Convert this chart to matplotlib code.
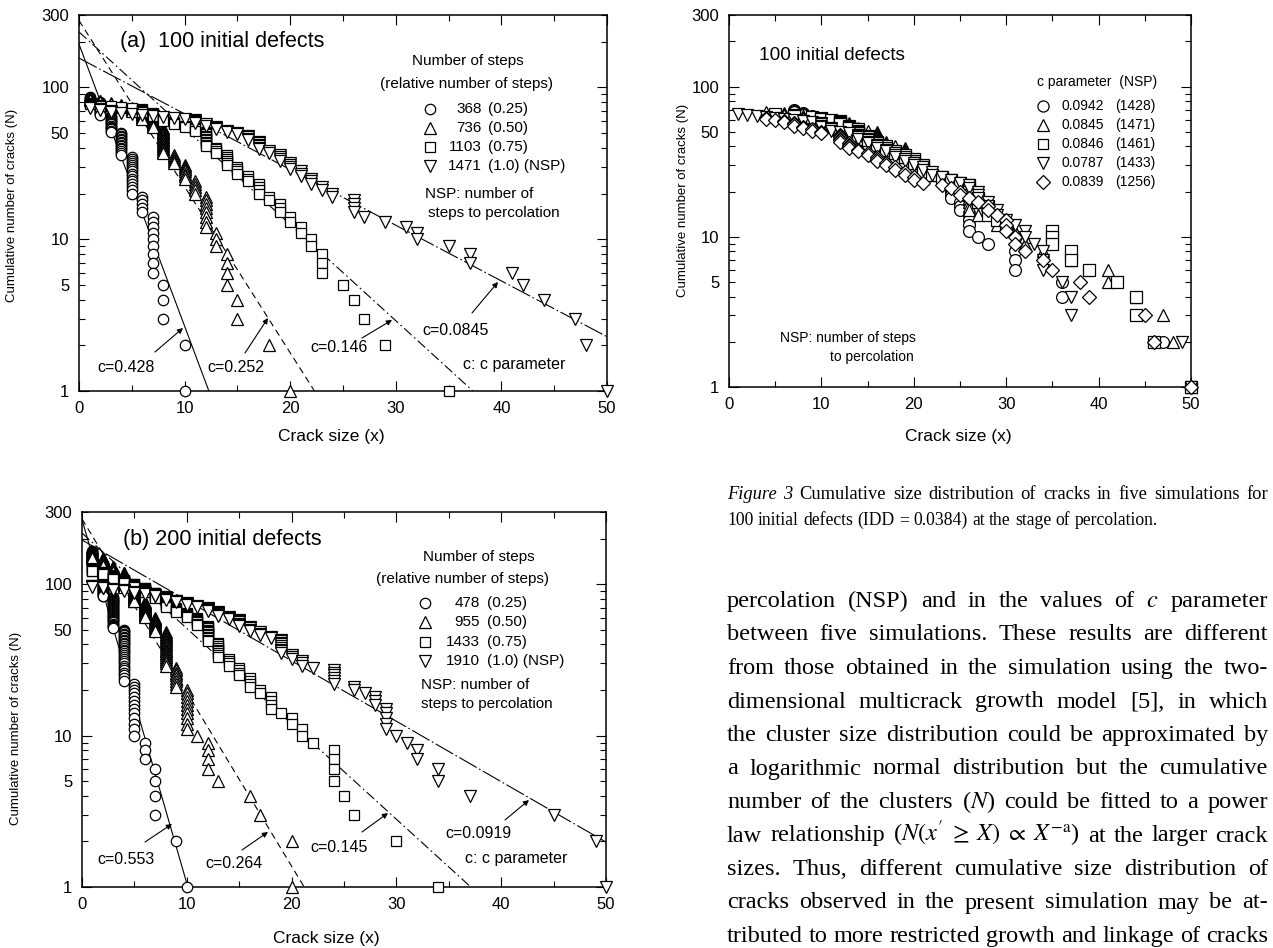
import matplotlib
matplotlib.use("Agg")
import matplotlib.pyplot as plt
from matplotlib.lines import Line2D
from matplotlib.patches import FancyArrowPatch
from matplotlib.ticker import FixedLocator, FuncFormatter

W, H = 1273, 948
plt.rcParams['font.family'] = ['Liberation Sans', 'DejaVu Sans']
plt.rcParams['mathtext.fontset'] = 'stix'

# ---- panel (a): 100 initial defects, crack size -> top N of each column
a_circ_x = [1, 2, 3, 4, 5, 6, 7, 8, 10]
a_circ_n = [86, 80, 65, 50, 35, 19, 14, 5, 2]
a_tri_x = [1, 2, 3, 4, 5, 6, 7, 8, 9, 10, 11, 12, 13, 14, 15, 18, 20]
a_tri_n = [84, 82, 79, 77, 73, 69, 61, 54, 36, 31, 24, 19, 11, 8, 4, 2, 1]
a_sq_x = [1, 2, 3, 4, 5, 6, 7, 8, 9, 10, 11, 12, 13, 14, 15, 16, 17, 18, 19, 20,
          21, 22, 23, 25, 26, 27, 29, 35]
a_sq_n = [79, 77, 75, 74, 73, 72, 68, 64, 59, 56, 54, 51, 40, 36, 30, 26, 23, 19, 17, 14,
          12, 10, 8, 5, 4, 3, 2, 1]
a_tdn_x = [1, 2, 3, 4, 5, 6, 7, 8, 9, 10, 11, 12, 13, 14, 15, 16, 17, 18, 19, 20,
           21, 22, 23, 24, 26, 27, 29, 31, 32, 35, 37, 41, 42, 44, 47, 48, 50]
a_tdn_n = [75, 72, 70, 68, 67, 66, 65, 64, 63, 62, 61, 57, 55, 52, 50, 48, 44, 38, 36, 32,
           28, 25, 22, 20, 18, 14, 13, 12, 11, 9, 8, 6, 5, 4, 3, 2, 1]
a_steps = ["368", "736", "1103", "1471"]
a_rel = ["(0.25)", "(0.50)", "(0.75)", "(1.0) (NSP)"]
a_fit_c = ["0.428", "0.252", "0.146", "0.0845"]
a_fit_x = [[0, 12.3], [0, 22.3], [0, 37.3], [0, 50]]
a_fit_n = [[193, 1], [276, 1], [232, 1], [156, 2.28]]

# ---- panel (b): 200 initial defects
b_circ_x = [1, 2, 3, 4, 5, 6, 7, 9, 10]
b_circ_n = [165, 135, 82, 50, 22, 9, 6, 2, 1]
b_tri_x = [1, 2, 3, 4, 5, 6, 7, 8, 9, 10, 11, 12, 13, 16, 17, 20]
b_tri_n = [156, 148, 130, 119, 95, 76, 60, 48, 28, 20, 10, 9, 5, 4, 3, 2]
b_sq_x = [1, 2, 3, 4, 5, 6, 7, 8, 9, 10, 11, 12, 13, 14, 15, 16, 17, 18, 19, 20,
          21, 22, 24, 25, 26, 30, 34]
b_sq_n = [128, 121, 115, 107, 101, 95, 88, 80, 70, 65, 60, 53, 41, 32, 28, 24, 20, 18, 14, 13,
          11, 9, 8, 4, 3, 2, 1]
b_tdn_x = [1, 2, 3, 4, 5, 6, 7, 8, 9, 10, 11, 12, 13, 14, 15, 16, 17, 18, 19, 20,
           21, 22, 24, 26, 27, 28, 29, 30, 31, 32, 34, 37, 45, 49, 50]
b_tdn_n = [98, 95, 93, 91, 89, 87, 85, 82, 78, 75, 72, 70, 66, 61, 58, 52, 48, 45, 43, 34,
           31, 28, 27, 21, 19, 18, 15, 10, 9, 8, 6, 4, 3, 2, 1]
b_steps = ["478", "955", "1433", "1910"]
b_rel = ["(0.25)", "(0.50)", "(0.75)", "(1.0) (NSP)"]
b_fit_c = ["0.553", "0.264", "0.145", "0.0919"]
b_fit_x = [[0, 10.1], [0, 21.2], [0, 37.1], [0, 50]]
b_fit_n = [[267, 1], [270, 1], [218, 1], [196, 1.98]]

# ---- figure 3: five simulations, 100 initial defects
c_circ_x = [7, 8, 9, 10, 11, 12, 13, 14, 15, 16, 17, 18, 19, 20, 21, 22, 23, 24, 25, 26,
            27, 28, 31, 36, 44, 47, 50]
c_circ_n = [70, 67, 64, 60, 57, 54, 50, 46, 43, 40, 37, 34, 31, 29, 27, 26, 25, 24, 17, 14,
            10, 9, 8, 5, 3, 2, 1]
c_tri_x = [4, 6, 8, 10, 12, 13, 14, 15, 16, 17, 18, 19, 20, 21, 22, 23, 24, 25, 26, 27,
           29, 31, 32, 34, 37, 41, 44, 47, 48, 50]
c_tri_n = [68, 67, 64, 61, 59, 57, 53, 51, 50, 43, 40, 39, 33, 30, 27, 25, 23, 21, 20, 14,
           13, 11, 10, 8, 7, 6, 4, 3, 2, 1]
c_sq_x = [5, 7, 9, 10, 11, 12, 13, 14, 15, 16, 17, 18, 19, 20, 21, 22, 23, 24, 25, 26,
          27, 28, 29, 30, 35, 37, 39, 42, 44, 46, 50]
c_sq_n = [66, 65, 63, 62, 60, 59, 55, 52, 47, 43, 40, 37, 35, 33, 30, 26, 25, 24, 23, 22,
          18, 16, 13, 12, 11, 8, 6, 5, 4, 2, 1]
c_tdn_x = [1, 2, 3, 4, 5, 6, 7, 8, 9, 10, 11, 12, 13, 14, 15, 16, 17, 18, 19, 20,
           21, 22, 23, 24, 25, 26, 27, 28, 29, 30, 31, 32, 33, 34, 36, 37, 49, 50]
c_tdn_n = [66, 65, 64, 63, 62, 61, 60, 59, 58, 57, 53, 50, 49, 48, 44, 41, 38, 36, 33, 31,
           29, 27, 25, 24, 23, 22, 20, 17, 15, 13, 12, 11, 9, 8, 5, 4, 2, 1]
c_dia_x = [4, 5, 6, 7, 8, 9, 10, 12, 13, 14, 15, 16, 17, 18, 19, 20, 21, 23, 24, 25,
           26, 27, 28, 29, 30, 31, 32, 34, 35, 38, 39, 45, 46, 50]
c_dia_n = [62, 60, 59, 57, 54, 52, 50, 48, 42, 38, 36, 34, 31, 29, 27, 25, 23, 22, 21, 20,
           18, 17, 16, 14, 13, 10, 8, 7, 6, 5, 4, 3, 2, 1]
c_cpar = ["0.0942", "0.0845", "0.0846", "0.0787", "0.0839"]
c_nsp = ["(1428)", "(1471)", "(1461)", "(1433)", "(1256)"]

caption = [
    "Figure 3 Cumulative size distribution of cracks in five simulations for",
    "100 initial defects (IDD = 0.0384) at the stage of percolation.",
]
body = [
    "percolation (NSP) and in the values of $c$ parameter",
    "between five simulations. These results are different",
    "from those obtained in the simulation using the two-",
    "dimensional multicrack growth model [5], in which",
    "the cluster size distribution could be approximated by",
    "a logarithmic normal distribution but the cumulative",
    "number of the clusters ($N$) could be fitted to a power",
    "law relationship ($N(x'\\;\\geq\\;X)\\;\\propto\\;X^{-\\mathrm{a}}$) at the larger crack",
    "sizes. Thus, different cumulative size distribution of",
    "cracks observed in the present simulation may be at-",
    "tributed to more restricted growth and linkage of cracks",
]

fig = plt.figure(figsize=(W / 100, H / 100), dpi=100)


def P(px, py):
    return (px / W, 1 - py / H)


def ftext(px, py, s, size, ha='left', **kw):
    fig.text(px / W, 1 - py / H, s, fontsize=size, ha=ha, va='center', **kw)


def arrow(tail, head):
    fig.add_artist(FancyArrowPatch(P(*tail), P(*head), transform=fig.transFigure,
                                   arrowstyle='-|>', mutation_scale=8, lw=0.8,
                                   color='k', shrinkA=0, shrinkB=0))


def key(px, py, m, ms):
    fig.add_artist(Line2D([px / W], [1 - py / H], transform=fig.transFigure, marker=m,
                          ms=ms, mfc='white', mec='k', mew=0.9, ls='none'))


def columns(xs, tops):
    # cumulative counts: each size keeps N from its top down to the next size's top + 1
    px, py = [], []
    for i, (x, t) in enumerate(zip(xs, tops)):
        low = tops[i + 1] + 1 if i + 1 < len(tops) else 1
        for n in range(t, low - 1, -1):
            px.append(x)
            py.append(n)
    return px, py


def setup(rect):
    ax = fig.add_axes(rect)
    ax.set_yscale('log')
    ax.set_xlim(0, 50)
    ax.set_ylim(1, 300)
    ax.xaxis.set_major_locator(FixedLocator([0, 10, 20, 30, 40, 50]))
    ax.xaxis.set_minor_locator(FixedLocator([5, 15, 25, 35, 45]))
    ax.yaxis.set_major_locator(FixedLocator([1, 10, 100]))
    ax.yaxis.set_minor_locator(FixedLocator([2, 3, 4, 5, 6, 7, 8, 9, 20, 30, 40, 50,
                                             60, 70, 80, 90, 200, 300]))
    ax.yaxis.set_major_formatter(FuncFormatter(lambda v, p: "%d" % v))
    ax.yaxis.set_minor_formatter(FuncFormatter(
        lambda v, p: "%d" % v if v in (5, 50, 300) else ""))
    ax.tick_params(which='both', direction='in', top=True, right=True, width=0.8,
                   labelsize=12, pad=7)
    ax.tick_params(which='major', length=7)
    ax.tick_params(which='minor', length=4)
    ax.tick_params(axis='x', pad=7)
    for s in ax.spines.values():
        s.set_linewidth(1.1)
    return ax


def scatter(ax, xs, tops, m, ms):
    x, y = columns(xs, tops)
    ax.plot(x, y, ls='none', marker=m, ms=ms, mfc='white', mec='k', mew=0.9,
            clip_on=False, zorder=3)


styles = ['-', (0, (6, 4)), (0, (9, 3, 1.5, 3)), (0, (18, 2.5, 1.5, 2.5))]

# ---------------- panel (a)
ax = setup([79 / W, 1 - 391 / H, 528 / W, 376 / H])
for fx, fn, ls in zip(a_fit_x, a_fit_n, styles):
    ax.plot(fx, fn, color='k', lw=0.8, ls=ls)
scatter(ax, a_circ_x, a_circ_n, 'o', 7.5)
scatter(ax, a_tri_x, a_tri_n, '^', 8.5)
scatter(ax, a_sq_x, a_sq_n, 's', 7.5)
scatter(ax, a_tdn_x, a_tdn_n, 'v', 8.5)

ftext(120, 41, "(a)  100 initial defects", 15.5)
ftext(468, 61, "Number of steps", 11, ha='center')
ftext(466, 84, "(relative number of steps)", 11, ha='center')
for i, (m, s, r) in enumerate(zip(['o', '^', 's', 'v'], a_steps, a_rel)):
    y = 109 + i * 19
    key(430, y, m, 7.5 if m in 'os' else 8.5)
    ftext(482, y, s, 11, ha='right')
    ftext(488, y, r, 11)
ftext(425, 194, "NSP: number of", 11)
ftext(428, 213, "steps to percolation", 11)
ftext(97, 368, "c=" + a_fit_c[0], 11.5)
arrow((155, 352), (183, 328))
ftext(207, 368, "c=" + a_fit_c[1], 11.5)
arrow((245, 353), (268, 318))
ftext(310, 348, "c=" + a_fit_c[2], 11.5)
arrow((362, 338), (392, 320))
ftext(422, 330, "c=" + a_fit_c[3], 11.5)
arrow((472, 313), (498, 282))
ftext(463, 364, "c: c parameter", 11.5)
ftext(12, 205, "Cumulative number of cracks (N)", 9.5, ha='center', rotation=90)
ftext(331, 437, "Crack size (x)", 12.5, ha='center')

# ---------------- panel (b)
ax = setup([82 / W, 1 - 887 / H, 524 / W, 375 / H])
for fx, fn, ls in zip(b_fit_x, b_fit_n, styles):
    ax.plot(fx, fn, color='k', lw=0.8, ls=ls)
scatter(ax, b_circ_x, b_circ_n, 'o', 7.5)
scatter(ax, b_tri_x, b_tri_n, '^', 8.5)
scatter(ax, b_sq_x, b_sq_n, 's', 7.5)
scatter(ax, b_tdn_x, b_tdn_n, 'v', 8.5)

ftext(123, 540, "(b) 200 initial defects", 15.5)
ftext(479, 557, "Number of steps", 11, ha='center')
ftext(462, 579, "(relative number of steps)", 11, ha='center')
for i, (m, s, r) in enumerate(zip(['o', '^', 's', 'v'], b_steps, b_rel)):
    y = 603 + i * 19.3
    key(425, y, m, 7.5 if m in 'os' else 8.5)
    ftext(480, y, s, 11, ha='right')
    ftext(487, y, r, 11)
ftext(421, 685, "NSP: number of", 11)
ftext(421, 704, "steps to percolation", 11)
ftext(97, 859, "c=" + b_fit_c[0], 11.5)
arrow((145, 842), (172, 824))
ftext(205, 863, "c=" + b_fit_c[1], 11.5)
arrow((242, 850), (268, 832))
ftext(310, 848, "c=" + b_fit_c[2], 11.5)
arrow((362, 832), (388, 813))
ftext(445, 833, "c=" + b_fit_c[3], 11.5)
arrow((505, 820), (529, 800))
ftext(465, 859, "c: c parameter", 11.5)
ftext(16, 728, "Cumulative number of cracks (N)", 9.5, ha='center', rotation=90)
ftext(326, 938, "Crack size (x)", 12.5, ha='center')

# ---------------- figure 3
ax = setup([729 / W, 1 - 387 / H, 462 / W, 372 / H])
c_ms = {'o': 8.5, '^': 9, 's': 8.2, 'v': 9, 'D': 7.5}
scatter(ax, c_circ_x, c_circ_n, 'o', c_ms['o'])
scatter(ax, c_tri_x, c_tri_n, '^', c_ms['^'])
scatter(ax, c_sq_x, c_sq_n, 's', c_ms['s'])
scatter(ax, c_tdn_x, c_tdn_n, 'v', c_ms['v'])
scatter(ax, c_dia_x, c_dia_n, 'D', c_ms['D'])

ftext(759, 55, "100 initial defects", 13.7)
ftext(1037, 82, "c parameter  (NSP)", 10)
for i, (m, cp, ns) in enumerate(zip(['o', '^', 's', 'v', 'D'], c_cpar, c_nsp)):
    y = 106 + i * 19
    key(1043, y, m, c_ms[m] - 0.5)
    ftext(1062, y, cp, 10)
    ftext(1115, y, ns, 10)
ftext(916, 338, "NSP: number of steps", 10, ha='right')
ftext(914, 357, "to percolation", 10, ha='right')
ftext(683, 200, "Cumulative number of cracks (N)", 9.5, ha='center', rotation=90)
ftext(958, 437, "Crack size (x)", 12.5, ha='center')

# ---------------- caption and body text (justified)
renderer = fig.canvas.get_renderer()


def line(s, x0, x1, y, size, justify=True, italic=0):
    words = s.split(' ')
    ts = []
    for i, w in enumerate(words):
        ts.append(fig.text(0, 1 - y / H, w, fontsize=size, va='baseline',
                           family=['Liberation Serif', 'DejaVu Serif'],
                           style='italic' if i < italic else 'normal'))
    ws = [t.get_window_extent(renderer).width for t in ts]
    sp = size * 0.25 * 100 / 72
    gap = (x1 - x0 - sum(ws)) / (len(ws) - 1) if justify else sp
    x = x0
    for t, w in zip(ts, ws):
        t.set_x(x / W)
        x += w + gap


line(caption[0], 727, 1268, 499, 13.3, italic=2)
line(caption[1], 727, 1268, 525, 12.7, justify=False)
for i, s in enumerate(body):
    line(s, 727, 1268, 607 + i * 33.5, 17.5)

fig.savefig("out.png", dpi=100)
